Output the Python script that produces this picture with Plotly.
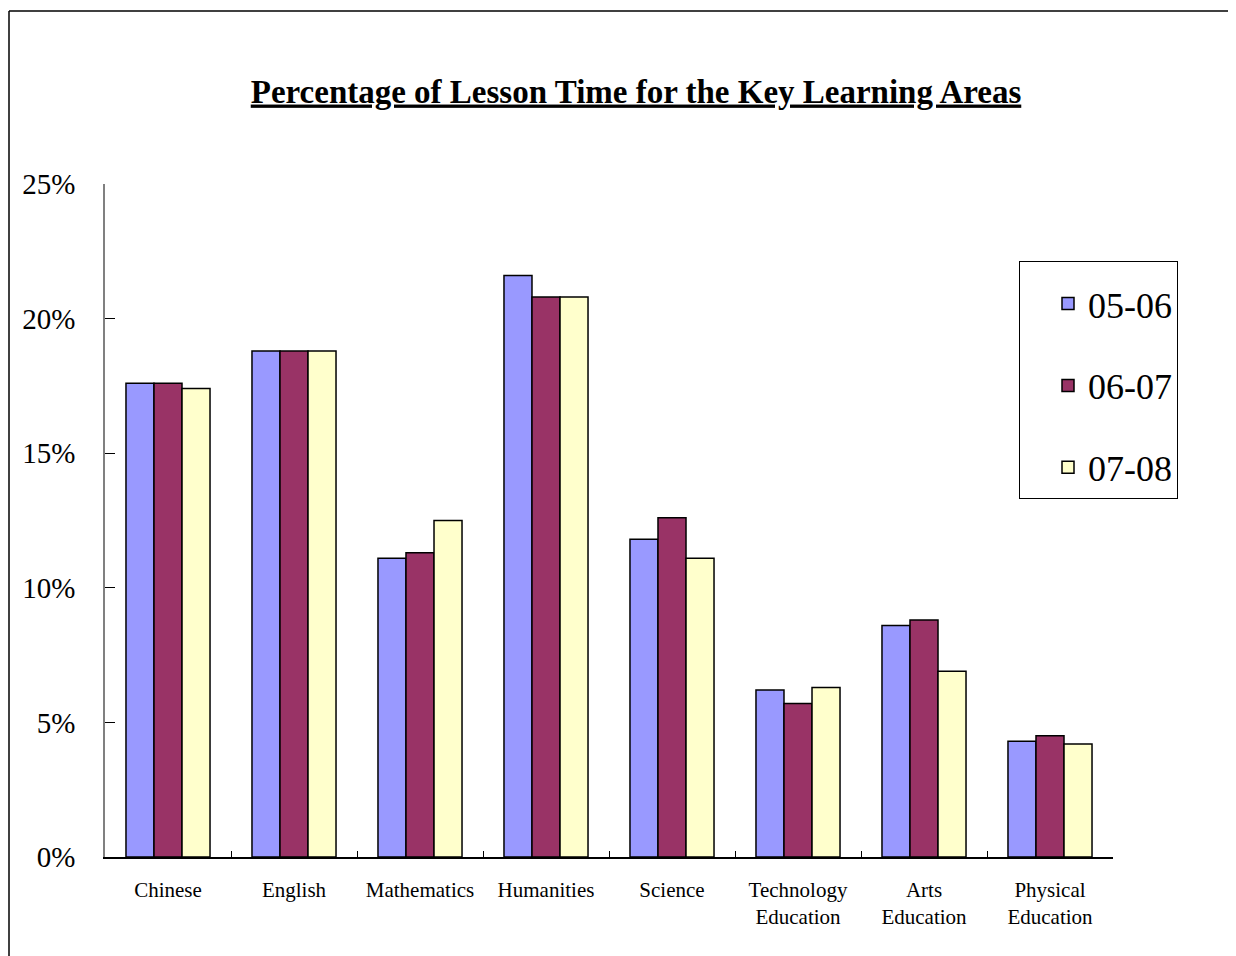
import plotly.graph_objects as go

categories = ["Chinese", "English", "Mathematics", "Humanities", "Science",
              "Technology<br>Education", "Arts<br>Education", "Physical<br>Education"]
series_names = ["05-06", "06-07", "07-08"]
values_0506 = [17.6, 18.8, 11.1, 21.6, 11.8, 6.2, 8.6, 4.3]
values_0607 = [17.6, 18.8, 11.3, 20.8, 12.6, 5.7, 8.8, 4.5]
values_0708 = [17.4, 18.8, 12.5, 20.8, 11.1, 6.3, 6.9, 4.2]
colors = ["#9999FF", "#993366", "#FFFFCC"]
y_tickvals = [0, 5, 10, 15, 20, 25]
y_ticktext = ["0%", "5%", "10%", "15%", "20%", "25%"]

SERIF = "Liberation Serif, Times New Roman, serif"

fig = go.Figure()
for name, vals, col in zip(series_names, [values_0506, values_0607, values_0708], colors):
    fig.add_trace(go.Bar(
        x=categories, y=vals, name=name, legendgroup=name,
        marker=dict(color=col, line=dict(color="#000000", width=1.5)),
    ))

# page body has an 8px margin; lay out in page pixels and subtract it
OFF = 8
W, H = 1236 - OFF, 956 - OFF
L, R, T, B = 105 - OFF, 1113 - OFF, 184 - OFF, 857 - OFF
px2x = lambda px: (px - OFF - L) / (R - L)
px2y = lambda py: (B - (py - OFF)) / (B - T)

fig.update_layout(
    width=W, height=H,
    margin=dict(l=L, r=W - R, t=T, b=H - B, pad=0),
    paper_bgcolor="white", plot_bgcolor="white",
    barmode="group", bargap=0.333, bargroupgap=0,
    font=dict(family=SERIF, color="#000000"),
    title=dict(
        text="<b><u>Percentage of Lesson Time for the Key Learning Areas</u></b>",
        x=(636 - OFF) / W, xanchor="center", xref="container",
        y=1 - (91 - OFF) / H, yanchor="middle", yref="container",
        font=dict(family=SERIF, size=33, color="#000000"),
    ),
    showlegend=True,
    legend=dict(
        x=px2x(1019), xanchor="left",
        y=px2y(261), yanchor="top",
        bordercolor="#000000", borderwidth=1, bgcolor="white",
        font=dict(family=SERIF, size=36, color="#000000"),
        tracegroupgap=32, traceorder="grouped",
        indentation=28, entrywidth=178, entrywidthmode="pixels",
        title=dict(text=" ", font=dict(family=SERIF, size=9)),
    ),
    xaxis=dict(
        showline=True, linecolor="#000000", linewidth=1.5,
        ticks="inside", ticklen=6, tickcolor="#000000", tickwidth=1,
        tickson="boundaries", showgrid=False, zeroline=False,
        tickfont=dict(family=SERIF, size=21, color="#000000"),
        ticklabelstandoff=13, fixedrange=True,
    ),
    yaxis=dict(
        range=[0, 25], tickvals=y_tickvals, ticktext=y_ticktext,
        showline=True, linecolor="#808080", linewidth=1.5,
        ticks="inside", ticklen=10, tickcolor="#000000", tickwidth=1,
        showgrid=False, zeroline=False,
        tickfont=dict(family=SERIF, size=29, color="#000000"),
        ticklabelstandoff=22, fixedrange=True,
    ),
)

# outer chart border (left and top edges visible in reference)
fig.add_shape(type="line", xref="paper", yref="paper",
              x0=px2x(9), x1=px2x(1240), y0=px2y(11), y1=px2y(11),
              line=dict(color="#000000", width=1.5))
fig.add_shape(type="line", xref="paper", yref="paper",
              x0=px2x(9), x1=px2x(9), y0=px2y(11), y1=px2y(960),
              line=dict(color="#000000", width=1.5))

fig.write_html("out.html")
